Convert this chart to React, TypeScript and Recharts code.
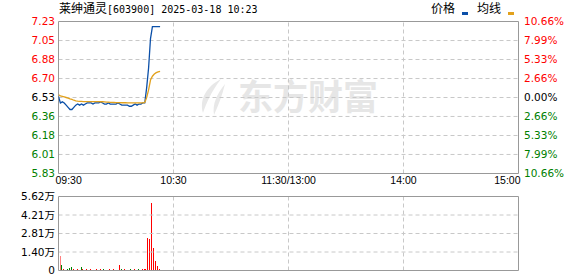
import React from 'react';
import {
  ComposedChart,
  Line,
  Bar,
  Cell,
  XAxis,
  YAxis,
  ReferenceLine,
} from 'recharts';

// ---- Quote header ----
const stockName = '莱绅通灵';
const stockMeta = '[603900] 2025-03-18 10:23';
const legendPrice = '价格';
const legendAvg = '均线';
const watermarkText = '东方财富';

// ---- Axis definitions ----
const prevClose = 6.53;
const pctSteps = [10.66, 7.99, 5.33, 2.66, 0, -2.66, -5.33, -7.99, -10.66];
const timeLabels = ['09:30', '10:30', '11:30/13:00', '14:00', '15:00'];
const timeTickMinutes = [0, 60, 120, 180, 240];
const volTickValues = [0, 14045, 28090, 42135, 56180];

// ---- Minute series (09:30 onwards) ----
const prices = [
  6.54, 6.48, 6.49, 6.48, 6.46, 6.44, 6.42, 6.42, 6.44, 6.46,
  6.47, 6.46, 6.47, 6.46, 6.47, 6.48, 6.48, 6.48, 6.47, 6.48,
  6.48, 6.48, 6.49, 6.48, 6.47, 6.47, 6.48, 6.47, 6.47, 6.47,
  6.47, 6.48, 6.47, 6.46, 6.46, 6.46, 6.46, 6.45, 6.45, 6.46,
  6.47, 6.46, 6.47, 6.47, 6.48, 6.48, 6.62, 6.8, 7.07, 7.18,
  7.18, 7.18, 7.18, 7.18,
];

const avgPrices = [
  6.555, 6.545, 6.54, 6.535, 6.53, 6.525, 6.518, 6.512, 6.505, 6.5,
  6.497, 6.495, 6.494, 6.493, 6.493, 6.493, 6.493, 6.493, 6.492, 6.492,
  6.492, 6.492, 6.491, 6.491, 6.49, 6.488, 6.487, 6.486, 6.485, 6.484,
  6.483, 6.483, 6.483, 6.482, 6.482, 6.482, 6.481, 6.481, 6.481, 6.481,
  6.481, 6.481, 6.481, 6.481, 6.481, 6.485, 6.53, 6.6, 6.69, 6.725,
  6.745, 6.758, 6.765, 6.77,
];

const volumes = [
  10630, 3800, 900, 700, 800, 1800, 2500, 800, 700, 800,
  700, 2300, 800, 700, 800, 700, 800, 700, 700, 800,
  700, 800, 700, 800, 700, 700, 800, 700, 800, 700,
  700, 3800, 800, 700, 800, 700, 700, 800, 700, 800,
  700, 800, 700, 800, 900, 900, 24520, 23770, 51620, 16930,
  7060, 3040, 900, 500,
];

// ---- Styling ----
const UP = '#ff0000';
const DOWN = '#008000';
const FLAT = '#000000';
const BLUE = '#0b4fa8';
const GOLD = '#e2a11c';
const GRID = '#c8c8c8';
const FRAME = '#999999';
const DASH = '4 3';
const LABEL_FONT = 'DejaVu Sans, Noto Sans CJK SC, sans-serif';
const TIME_FONT = 'Liberation Sans, Arial, sans-serif';
const CJK_FONT = 'Noto Sans CJK SC, sans-serif';

const priceTicks = pctSteps.map((p) => prevClose * (1 + p / 100));
const priceLow = priceTicks[priceTicks.length - 1];
const priceHigh = priceTicks[0];
const volMax = volTickValues[volTickValues.length - 1];

const innerTimeTicks = timeTickMinutes.slice(1, -1);
const innerPriceTicks = priceTicks.slice(1, -1);
const innerVolTicks = volTickValues.slice(1, -1);

const rows = prices.map((p, i) => ({
  t: i,
  price: p,
  avg: avgPrices[i],
  vol: volumes[i],
}));

const colorFor = (v: number) =>
  v > prevClose + 1e-9 ? UP : v < prevClose - 1e-9 ? DOWN : FLAT;

const barColor = (i: number) =>
  prices[i] >= (i === 0 ? prevClose : prices[i - 1]) ? UP : DOWN;

const PriceTick = (props: any) => {
  const { x, y, payload } = props;
  const v = payload.value as number;
  return (
    <text x={x} y={y} dy="0.36em" textAnchor="end" fill={colorFor(v)} fontSize={10.5} fontFamily={LABEL_FONT}>
      {v.toFixed(2)}
    </text>
  );
};

const PctTick = (props: any) => {
  const { x, y, payload } = props;
  const v = payload.value as number;
  const pct = (v / prevClose - 1) * 100;
  return (
    <text x={x} y={y} dy="0.36em" textAnchor="start" fill={colorFor(v)} fontSize={10.5} fontFamily={LABEL_FONT}>
      {Math.abs(pct).toFixed(2) + '%'}
    </text>
  );
};

const TimeTick = (props: any) => {
  const { x, y, payload } = props;
  const idx = timeTickMinutes.indexOf(payload.value);
  const last = timeTickMinutes.length - 1;
  const anchor = idx === 0 ? 'start' : idx === last ? 'end' : 'middle';
  const dx = idx === 0 ? -3 : idx === last ? 2 : 0;
  return (
    <text x={x + dx} y={y} dy={10.5} textAnchor={anchor} fill="#000" fontSize={10.5} fontFamily={TIME_FONT}>
      {timeLabels[idx]}
    </text>
  );
};

const VolTick = (props: any) => {
  const { x, y, payload } = props;
  const v = payload.value as number;
  const label = v === 0 ? '0' : (v / 10000).toFixed(2) + '万';
  return (
    <text x={x} y={y} dy="0.36em" textAnchor="end" fill="#000" fontSize={10.5} fontFamily={LABEL_FONT}>
      {label}
    </text>
  );
};

const Watermark = () => (
  <svg width={578} height={276} style={{ position: 'absolute', left: 0, top: 0 }}>
    <g fill="#e8e8e8">
      <path d="M221 79 C 207 86, 199 99, 203 113 C 206 104, 211 92, 221 79 Z" />
      <path d="M225 84 C 217 94, 212 104, 214 115 C 218 106, 222 96, 225 84 Z" />
    </g>
    <text x={238} y={110} fontSize={35} fontWeight={700} fill="#e6e6e6" fontFamily={CJK_FONT}>
      {watermarkText}
    </text>
  </svg>
);

const Header = () => (
  <svg width={578} height={20} style={{ position: 'absolute', left: 0, top: 0 }}>
    <text x={59} y={13} fill="#000">
      <tspan fontSize={12} fontFamily={CJK_FONT}>{stockName}</tspan>
      <tspan fontSize={10} fontFamily="DejaVu Sans Mono, monospace">{stockMeta}</tspan>
    </text>
    <text x={431} y={13} fontSize={12} fontFamily={CJK_FONT} fill="#000">{legendPrice}</text>
    <rect x={462} y={12} width={6} height={3} fill={BLUE} />
    <text x={477} y={13} fontSize={12} fontFamily={CJK_FONT} fill="#000">{legendAvg}</text>
    <rect x={508} y={12} width={6} height={3} fill={GOLD} />
  </svg>
);

export default function App() {
  return (
    <div style={{ position: 'absolute', left: 0, top: 0, width: 578, height: 276, background: '#fff', overflow: 'hidden' }}>
      <Watermark />
      <Header />

      {/* Price / average panel */}
      <div style={{ position: 'absolute', left: 0, top: 0 }}>
        <ComposedChart width={578} height={200} data={rows} margin={{ top: 21.5, right: 0, bottom: 0, left: 0 }}>
          <XAxis
            xAxisId="time"
            type="number"
            dataKey="t"
            domain={[0, 240]}
            ticks={timeTickMinutes}
            interval={0}
            allowDataOverflow
            axisLine={false}
            tickLine={false}
            tickSize={0}
            tickMargin={0}
            height={26.5}
            tick={<TimeTick />}
          />
          <YAxis
            yAxisId="price"
            orientation="left"
            type="number"
            width={58.5}
            domain={[priceLow, priceHigh]}
            ticks={priceTicks}
            interval={0}
            allowDataOverflow
            axisLine={false}
            tickLine={false}
            tickSize={0}
            tickMargin={3.5}
            tick={<PriceTick />}
          />
          <YAxis
            yAxisId="pct"
            orientation="right"
            type="number"
            width={59.5}
            domain={[priceLow, priceHigh]}
            ticks={priceTicks}
            interval={0}
            allowDataOverflow
            axisLine={false}
            tickLine={false}
            tickSize={0}
            tickMargin={5.5}
            tick={<PctTick />}
          />
          {innerPriceTicks.map((v, i) => (
            <ReferenceLine key={'ph' + i} xAxisId="time" yAxisId="price" y={v} stroke={GRID} strokeDasharray={DASH} />
          ))}
          {innerTimeTicks.map((t, i) => (
            <ReferenceLine key={'pv' + i} xAxisId="time" yAxisId="price" x={t} stroke={GRID} strokeDasharray={DASH} />
          ))}
          <ReferenceLine xAxisId="time" yAxisId="price" y={priceHigh} stroke={FRAME} />
          <ReferenceLine xAxisId="time" yAxisId="price" y={priceLow} stroke={FRAME} />
          <ReferenceLine xAxisId="time" yAxisId="price" x={0} stroke={FRAME} />
          <ReferenceLine xAxisId="time" yAxisId="price" x={240} stroke={FRAME} />
          <Line
            xAxisId="time"
            yAxisId="price"
            type="linear"
            dataKey="price"
            stroke={BLUE}
            strokeWidth={1.3}
            dot={false}
            activeDot={false}
            isAnimationActive={false}
          />
          <Line
            xAxisId="time"
            yAxisId="price"
            type="linear"
            dataKey="avg"
            stroke={GOLD}
            strokeWidth={1.3}
            dot={false}
            activeDot={false}
            isAnimationActive={false}
          />
        </ComposedChart>
      </div>

      {/* Volume panel */}
      <div style={{ position: 'absolute', left: 0, top: 186 }}>
        <ComposedChart width={578} height={90} data={rows} margin={{ top: 10.5, right: 59.5, bottom: 5.5, left: 0 }}>
          <XAxis
            xAxisId="time"
            type="number"
            dataKey="t"
            domain={[0, 240]}
            ticks={timeTickMinutes}
            interval={0}
            allowDataOverflow
            axisLine={false}
            tickLine={false}
            tick={false}
            height={0}
          />
          <XAxis
            xAxisId="bars"
            type="number"
            dataKey="t"
            domain={[0, 240]}
            padding={{ left: 2, right: 0 }}
            allowDataOverflow
            hide
          />
          <YAxis
            yAxisId="vol"
            type="number"
            width={58.5}
            domain={[0, volMax]}
            ticks={volTickValues}
            interval={0}
            allowDataOverflow
            axisLine={false}
            tickLine={false}
            tickSize={0}
            tickMargin={3.5}
            tick={<VolTick />}
          />
          {innerVolTicks.map((v, i) => (
            <ReferenceLine key={'vh' + i} xAxisId="time" yAxisId="vol" y={v} stroke={GRID} strokeDasharray={DASH} />
          ))}
          {innerTimeTicks.map((t, i) => (
            <ReferenceLine key={'vv' + i} xAxisId="time" yAxisId="vol" x={t} stroke={GRID} strokeDasharray={DASH} />
          ))}
          <ReferenceLine xAxisId="time" yAxisId="vol" y={volMax} stroke={FRAME} />
          <ReferenceLine xAxisId="time" yAxisId="vol" y={0} stroke={FRAME} />
          <ReferenceLine xAxisId="time" yAxisId="vol" x={0} stroke={FRAME} />
          <ReferenceLine xAxisId="time" yAxisId="vol" x={240} stroke={FRAME} />
          <Bar
            xAxisId="bars"
            yAxisId="vol"
            dataKey="vol"
            barSize={1}
            isAnimationActive={false}
          >
            {rows.map((_, i) => (
              <Cell key={i} fill={barColor(i)} shapeRendering="crispEdges" />
            ))}
          </Bar>
        </ComposedChart>
      </div>
    </div>
  );
}
